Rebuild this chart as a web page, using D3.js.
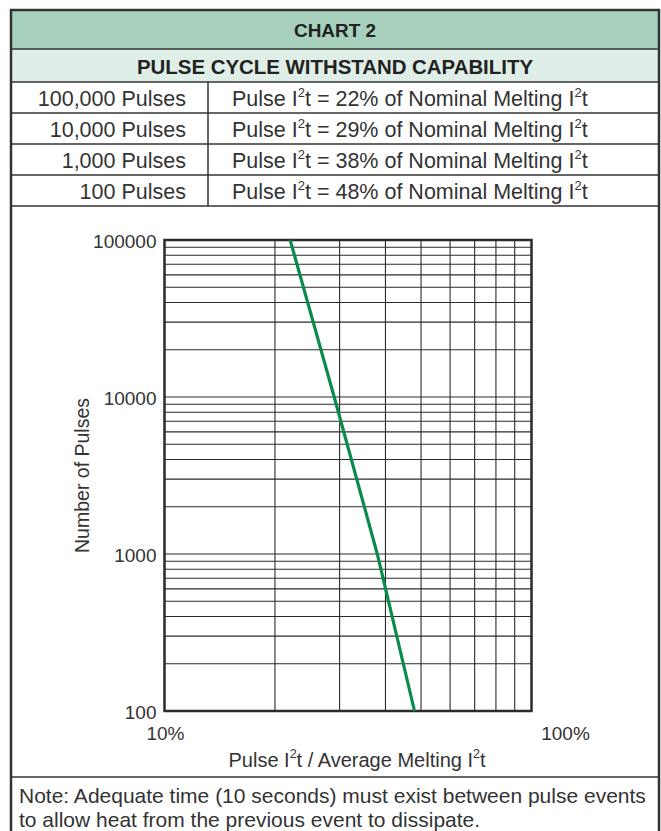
<!DOCTYPE html>
<html>
<head>
<meta charset="utf-8">
<script src="https://cdn.jsdelivr.net/npm/d3@7"></script>
<style>
  body { margin: 0; background: #fff; }
  text { font-family: "Liberation Sans", Arial, sans-serif; fill: #333; }
  .bold { font-weight: 700; fill: #222; }
</style>
</head>
<body>
<svg width="661" height="831"></svg>
<script>
// table rows
const pulseLabels = ["100,000 Pulses", "10,000 Pulses", "1,000 Pulses", "100 Pulses"];
const pulseCounts = [100000, 10000, 1000, 100];
const pctOfMelting = [22, 29, 38, 48];

// axes
const yTickValues = [100, 1000, 10000, 100000];
const xTickValues = [0.1, 1];
const xTickLabels = ["10%", "100%"];

const svg = d3.select("svg");

const boxLeft = 11, boxRight = 659, boxTop = 10;
const headH = 39, subH = 33, rowH = 31;
const colSplit = 208;
const rowsTop = boxTop + headH + subH;
const tableBottom = rowsTop + rowH * pulseLabels.length;
const noteTop = 777;

// header bands
svg.append("rect").attr("x", boxLeft).attr("y", boxTop)
  .attr("width", boxRight - boxLeft).attr("height", headH).attr("fill", "#a7d1bd");
svg.append("rect").attr("x", boxLeft).attr("y", boxTop + headH)
  .attr("width", boxRight - boxLeft).attr("height", subH).attr("fill", "#dfeee7");

svg.append("text").attr("class", "bold")
  .attr("x", (boxLeft + boxRight) / 2).attr("y", boxTop + headH / 2 + 1)
  .attr("text-anchor", "middle").attr("dominant-baseline", "central")
  .attr("font-size", 19).attr("textLength", 82).attr("lengthAdjust", "spacingAndGlyphs")
  .text("CHART 2");

svg.append("text").attr("class", "bold")
  .attr("x", (boxLeft + boxRight) / 2).attr("y", boxTop + headH + subH / 2 + 1)
  .attr("text-anchor", "middle").attr("dominant-baseline", "central")
  .attr("font-size", 20).attr("textLength", 396).attr("lengthAdjust", "spacingAndGlyphs")
  .text("PULSE CYCLE WITHSTAND CAPABILITY");

const rowY = d3.scaleBand().domain(pulseLabels).range([rowsTop, tableBottom]);

const rows = svg.append("g").selectAll("g").data(pulseLabels).join("g");

rows.append("text")
  .attr("x", 186).attr("y", d => rowY(d) + rowH / 2 + 1)
  .attr("text-anchor", "end").attr("dominant-baseline", "central")
  .attr("font-size", 21.5).text(d => d);

const rhs = rows.append("text")
  .attr("x", 232).attr("y", d => rowY(d) + rowH / 2 + 1)
  .attr("dominant-baseline", "central").attr("font-size", 21.5);
rhs.each(function (d, i) {
  const t = d3.select(this);
  t.append("tspan").text("Pulse I");
  t.append("tspan").attr("font-size", 13).attr("dy", -7).text("2");
  t.append("tspan").attr("dy", 7).text(`t = ${pctOfMelting[i]}% of Nominal Melting I`);
  t.append("tspan").attr("font-size", 13).attr("dy", -7).text("2");
  t.append("tspan").attr("dy", 7).text("t");
});

// table lines
const lines = svg.append("g").attr("stroke", "#333").attr("stroke-width", 1.5);
[boxTop + headH, rowsTop, ...pulseLabels.map(d => rowY(d) + rowH), noteTop].forEach(y => {
  lines.append("line").attr("x1", boxLeft).attr("x2", boxRight).attr("y1", y).attr("y2", y);
});
lines.append("line").attr("x1", colSplit).attr("x2", colSplit)
  .attr("y1", rowsTop).attr("y2", tableBottom);

// outer box
svg.append("rect").attr("x", boxLeft).attr("y", boxTop)
  .attr("width", boxRight - boxLeft).attr("height", 900)
  .attr("fill", "none").attr("stroke", "#333").attr("stroke-width", 2.5);

// plot
const plot = { left: 164.5, right: 531.5, top: 240, bottom: 711 };
const x = d3.scaleLog().domain([0.1, 1]).range([plot.left, plot.right]);
const y = d3.scaleLog().domain([100, 100000]).range([plot.bottom, plot.top]);

const grid = svg.append("g").attr("stroke", "#2b2b2b").attr("stroke-width", 1.1);
grid.selectAll(".h").data(y.ticks()).join("line")
  .attr("x1", plot.left).attr("x2", plot.right)
  .attr("y1", d => y(d)).attr("y2", d => y(d));
grid.selectAll(".v").data(x.ticks()).join("line")
  .attr("y1", plot.top).attr("y2", plot.bottom)
  .attr("x1", d => x(d)).attr("x2", d => x(d));

svg.append("rect").attr("x", plot.left).attr("y", plot.top)
  .attr("width", plot.right - plot.left).attr("height", plot.bottom - plot.top)
  .attr("fill", "none").attr("stroke", "#2b2b2b").attr("stroke-width", 2.5);

// withstand curve
const pts = pulseCounts.map((n, i) => [pctOfMelting[i] / 100, n]);
svg.append("path").datum(pts)
  .attr("fill", "none").attr("stroke", "#0a8a4c").attr("stroke-width", 3.2)
  .attr("d", d3.line().x(d => x(d[0])).y(d => y(d[1])));

// y tick labels
svg.append("g").selectAll("text").data(yTickValues).join("text")
  .attr("x", plot.left - 8).attr("y", d => y(d) + 1)
  .attr("text-anchor", "end").attr("dominant-baseline", "central")
  .attr("font-size", 19).text(d => d);

// x tick labels (100% sits off to the right in the original)
svg.append("g").selectAll("text").data(xTickValues).join("text")
  .attr("x", (d, i) => x(d) + (i === 0 ? 1 : 34)).attr("y", 733)
  .attr("text-anchor", "middle").attr("dominant-baseline", "central")
  .attr("font-size", 19).text((d, i) => xTickLabels[i]);

// axis titles
svg.append("text")
  .attr("transform", `translate(82,${(plot.top + plot.bottom) / 2}) rotate(-90)`)
  .attr("text-anchor", "middle").attr("dominant-baseline", "central")
  .attr("font-size", 19.5).text("Number of Pulses");

const xt = svg.append("text")
  .attr("x", 357).attr("y", 767)
  .attr("text-anchor", "middle").attr("font-size", 20);
xt.append("tspan").text("Pulse I");
xt.append("tspan").attr("font-size", 12.5).attr("dy", -9).text("2");
xt.append("tspan").attr("dy", 9).text("t / Average Melting I");
xt.append("tspan").attr("font-size", 12.5).attr("dy", -9).text("2");
xt.append("tspan").attr("dy", 9).text("t");

// note
svg.append("text").attr("x", 19).attr("y", 803)
  .attr("font-size", 21).text("Note: Adequate time (10 seconds) must exist between pulse events");
svg.append("text").attr("x", 19).attr("y", 827)
  .attr("font-size", 21).text("to allow heat from the previous event to dissipate.");
</script>
</body>
</html>
